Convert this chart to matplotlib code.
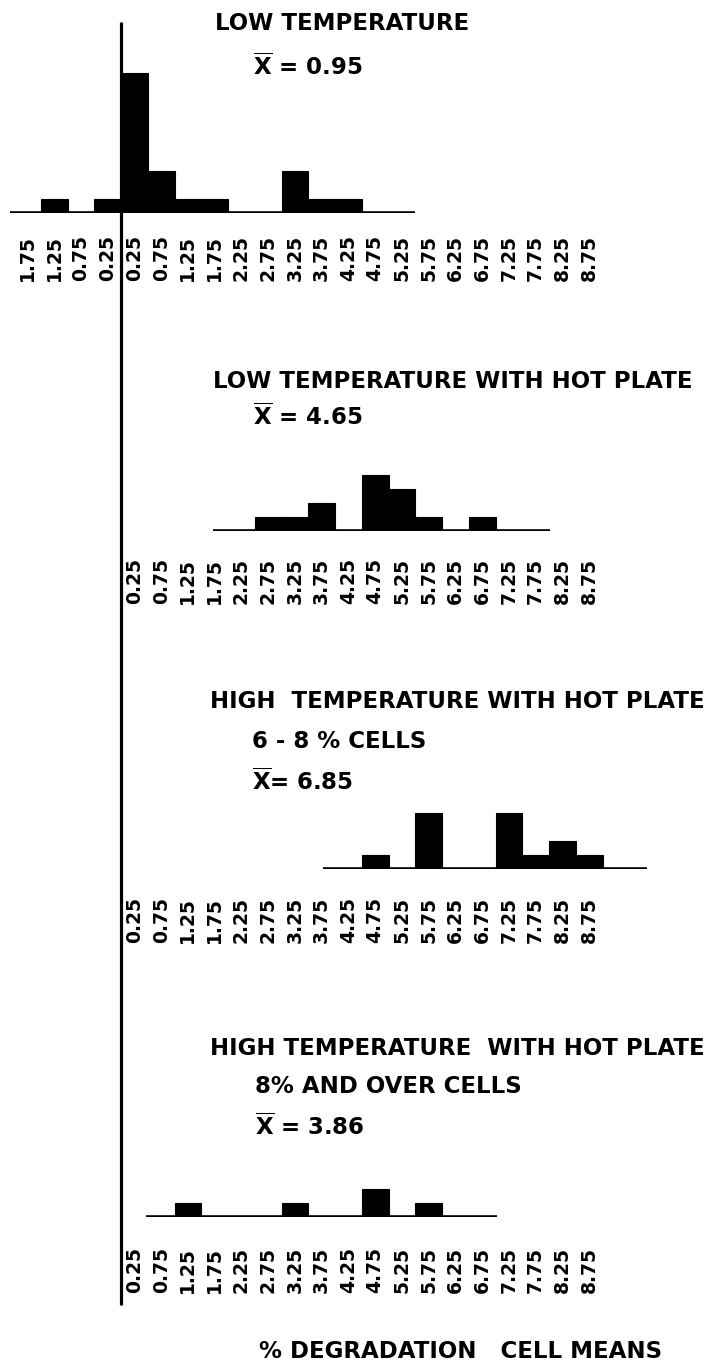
import matplotlib
matplotlib.use("Agg")
import matplotlib.pyplot as plt
import numpy as np

plt.rcParams['font.family'] = ['DejaVu Sans']
plt.rcParams['mathtext.fontset'] = 'dejavusans'

# ---------------- data ----------------
tick_pos = [0.25, 0.75, 1.25, 1.75, 2.25, 2.75, 3.25, 3.75, 4.25,
            4.75, 5.25, 5.75, 6.25, 6.75, 7.25, 7.75, 8.25, 8.75]
tick_lab = ["0.25", "0.75", "1.25", "1.75", "2.25", "2.75", "3.25", "3.75", "4.25",
            "4.75", "5.25", "5.75", "6.25", "6.75", "7.25", "7.75", "8.25", "8.75"]
neg_tick_pos = [-1.75, -1.25, -0.75, -0.25]
neg_tick_lab = ["1.75", "1.25", "0.75", "0.25"]

bins1 = [-1.25, -0.25, 0.25, 0.75, 1.25, 1.75, 3.25, 3.75, 4.25]
counts1 = [1, 1, 10, 3, 1, 1, 3, 1, 1]
range1 = (-2.07, 5.50)

bins2 = [2.75, 3.25, 3.75, 4.75, 5.25, 5.75, 6.75]
counts2 = [1, 1, 2, 4, 3, 1, 1]
range2 = (1.72, 8.02)

bins3 = [4.75, 5.75, 7.25, 7.75, 8.25, 8.75]
counts3 = [1, 4, 4, 1, 2, 1]
range3 = (3.78, 9.83)

bins4 = [1.25, 3.25, 4.75, 5.75]
counts4 = [1, 1, 2, 1]
range4 = (0.47, 7.03)

titles = ["LOW TEMPERATURE",
          "LOW TEMPERATURE WITH HOT PLATE",
          "HIGH  TEMPERATURE WITH HOT PLATE",
          "HIGH TEMPERATURE  WITH HOT PLATE"]
subtitles = [None, None, "6 - 8 % CELLS", "8% AND OVER CELLS"]
means = ["0.95", "4.65", "6.85", "3.86"]
xlabel = "% DEGRADATION   CELL MEANS"

# ---------------- layout ----------------
W, H = 710, 1370
DPI = 100
x0_px, px_per_unit = 121.0, 53.5
xlim = (-x0_px / px_per_unit, (W - x0_px) / px_per_unit)
unit_px = 14.0
ymax = 11

fig = plt.figure(figsize=(W / DPI, H / DPI), dpi=DPI)
fig.patch.set_facecolor("white")

bg = fig.add_axes([0, 0, 1, 1])
bg.set_xlim(*xlim)
bg.set_ylim(H, 0)
bg.axis("off")
bg.vlines(0, 22, 1305, color="black", lw=2.3)

def fy(px):
    return (H - px) / H

panels = [
    (bins1, counts1, range1, neg_tick_pos + tick_pos, neg_tick_lab + tick_lab, 213, 22),
    (bins2, counts2, range2, tick_pos, tick_lab, 531, 27),
    (bins3, counts3, range3, tick_pos, tick_lab, 869, 28),
    (bins4, counts4, range4, tick_pos, tick_lab, 1217, 30),
]

for bins, counts, rng, tp, tl, base_px, gap_px in panels:
    ax = fig.add_axes([0, fy(base_px), 1, ymax * unit_px / H])
    ax.patch.set_alpha(0)
    ax.set_xlim(*xlim)
    ax.set_ylim(0, ymax)
    ax.bar(bins, counts, width=0.5, color="black", edgecolor="black", lw=0.8)
    ax.hlines(0, rng[0], rng[1], color="black", lw=2.6)
    for s in ax.spines.values():
        s.set_visible(False)
    ax.set_yticks([])
    ax.set_xticks(tp)
    ax.set_xticklabels(tl, rotation=90, fontsize=13.5, fontweight="bold")
    ax.tick_params(axis="x", length=0, pad=gap_px * 0.72)

tkw = dict(fontsize=16.5, fontweight="bold", color="black")
xbar = r"$\overline{\mathbf{X}}$"
px = lambda p: (p - x0_px) / px_per_unit

bg.text(px(215), 30, titles[0], ha="left", va="baseline", **tkw)
bg.text(px(253), 75, xbar + " = " + means[0], ha="left", va="baseline", **tkw)

bg.text(px(213), 388, titles[1], ha="left", va="baseline", **tkw)
bg.text(px(253), 425, xbar + " = " + means[1], ha="left", va="baseline", **tkw)

bg.text(px(705), 708, titles[2], ha="right", va="baseline", **tkw)
bg.text(px(252), 748, subtitles[2], ha="left", va="baseline", **tkw)
bg.text(px(252), 790, xbar + "= " + means[2], ha="left", va="baseline", **tkw)

bg.text(px(705), 1055, titles[3], ha="right", va="baseline", **tkw)
bg.text(px(255), 1093, subtitles[3], ha="left", va="baseline", **tkw)
bg.text(px(255), 1135, xbar + " = " + means[3], ha="left", va="baseline", **tkw)

bg.text(px(662), 1358, xlabel, ha="right", va="baseline", **tkw)

fig.savefig("out.png", dpi=DPI, facecolor="white")
